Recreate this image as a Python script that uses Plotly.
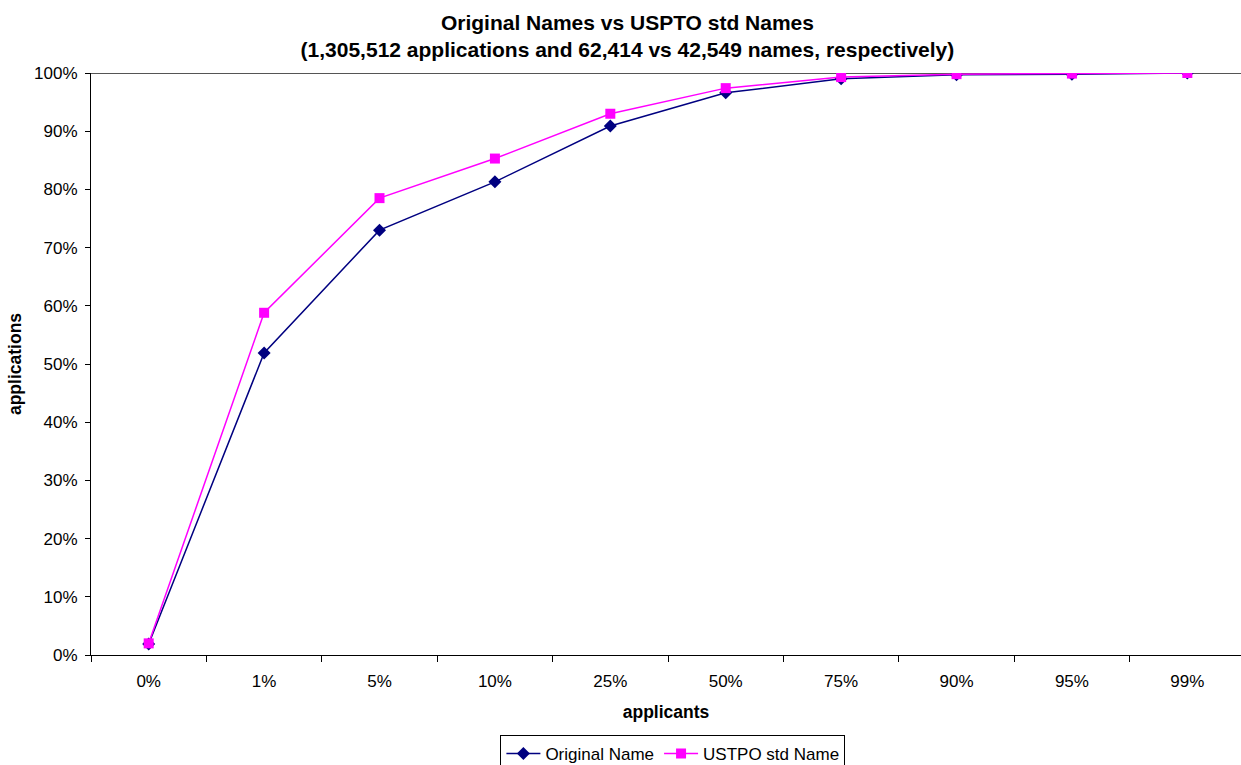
import plotly.graph_objects as go

categories = ["0%", "1%", "5%", "10%", "25%", "50%", "75%", "90%", "95%", "99%"]
original_name = [0.019, 0.519, 0.730, 0.813, 0.909, 0.966, 0.990, 0.997, 0.998, 1.000]
uspto_std_name = [0.020, 0.588, 0.785, 0.853, 0.930, 0.974, 0.993, 0.998, 0.999, 1.000]

fig = go.Figure()
fig.add_trace(go.Scatter(
    x=categories, y=original_name, name="Original Name", mode="lines+markers",
    line=dict(color="#000080", width=1.5),
    marker=dict(symbol="diamond", size=10, color="#000080"),
))
fig.add_trace(go.Scatter(
    x=categories, y=uspto_std_name, name="USTPO std Name", mode="lines+markers",
    line=dict(color="#FF00FF", width=1.5),
    marker=dict(symbol="square", size=10, color="#FF00FF"),
))

fig.add_shape(type="line", xref="paper", yref="y", x0=0, x1=1, y0=1, y1=1,
              line=dict(color="#555555", width=2), layer="below")

fig.update_layout(
    width=1241, height=765,
    margin=dict(l=91, r=0, t=73, b=110, autoexpand=False),
    paper_bgcolor="white", plot_bgcolor="white",
    font=dict(family="Liberation Sans, Arial, sans-serif", size=17, color="black"),
    title=dict(
        text="<b>Original Names vs USPTO std Names<br>(1,305,512 applications and 62,414 vs 42,549 names, respectively)</b>",
        x=0.5056, xanchor="center", yref="container", y=1 - 30 / 765, yanchor="middle",
        font=dict(size=21, color="black"),
    ),
    xaxis=dict(
        type="category", range=[-0.5, 9.465],
        showline=True, linecolor="black", linewidth=1,
        ticks="outside", tickson="boundaries", ticklen=6, tickcolor="black",
        ticklabelstandoff=11,
        showgrid=False, zeroline=False,
        title=dict(text="<b>applicants</b>", font=dict(size=17.5), standoff=15),
    ),
    yaxis=dict(
        range=[0, 1], dtick=0.1, tickformat=".0%",
        showline=True, linecolor="black", linewidth=1,
        ticks="outside", ticklen=5, tickcolor="black",
        ticklabelstandoff=4,
        showgrid=False, zeroline=False,
        title=dict(text="<b>applications</b>", font=dict(size=17.5), standoff=7),
    ),
    legend=dict(
        orientation="h", x=0.506, xanchor="center", y=-0.1375, yanchor="top",
        bordercolor="black", borderwidth=1, font=dict(size=17),
        itemwidth=34, tracegroupgap=0,
    ),
)

fig.write_html("out.html")
